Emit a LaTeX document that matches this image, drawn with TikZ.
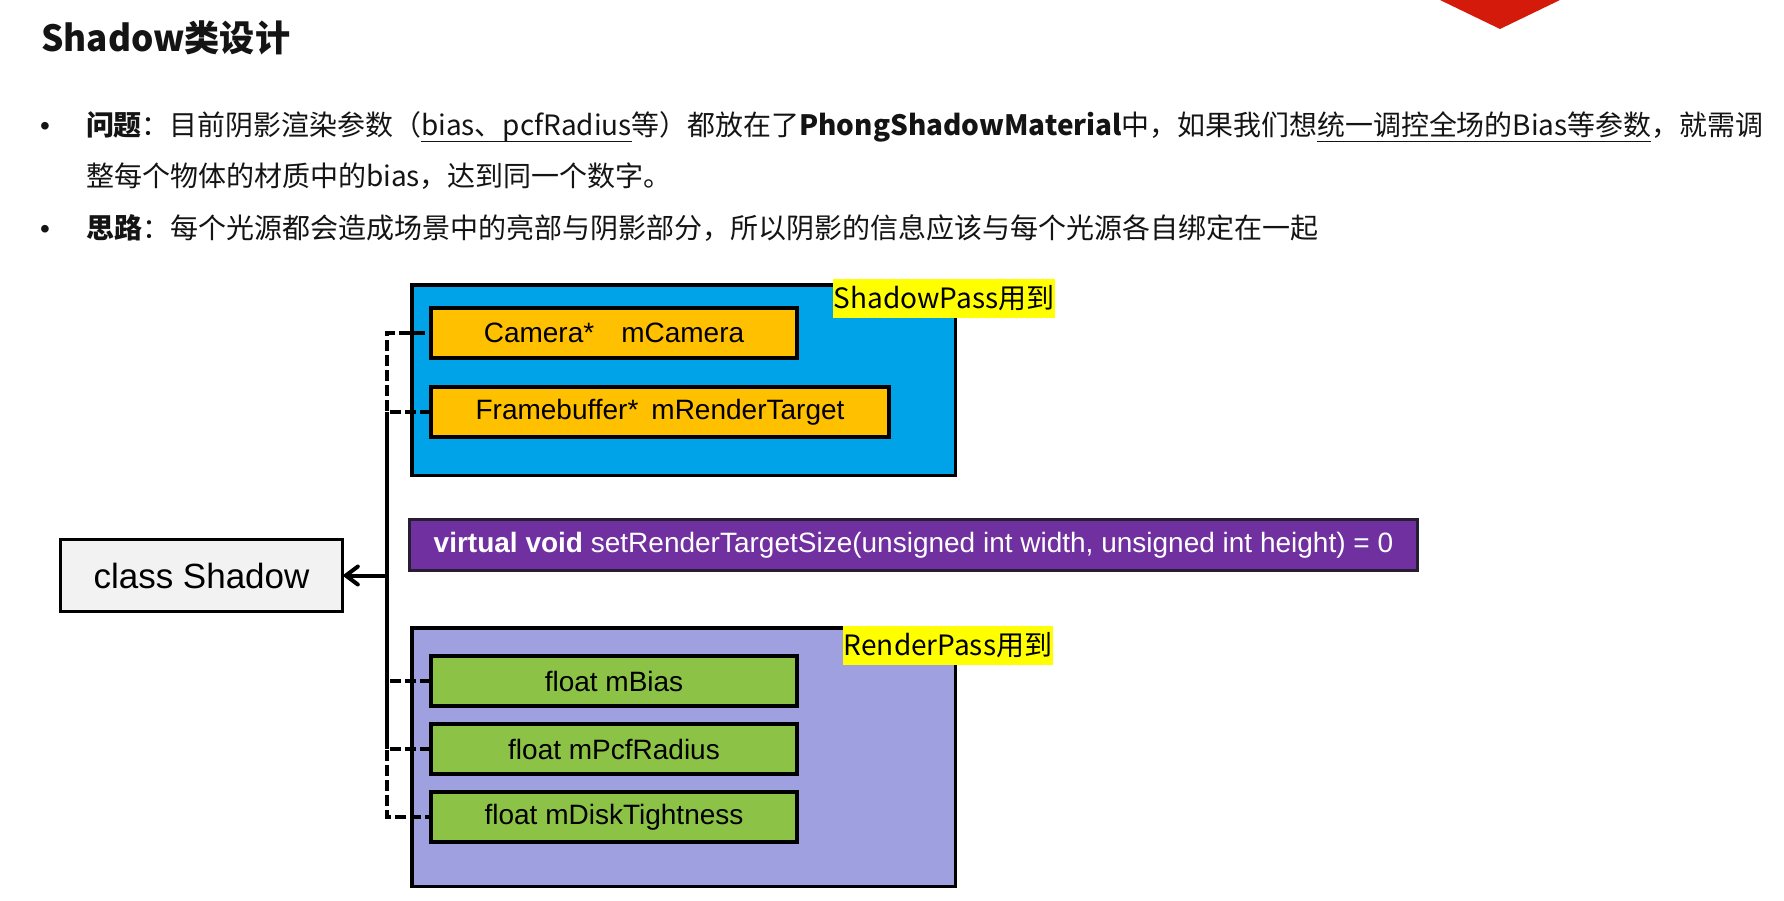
\documentclass[tikz,border=0pt]{standalone}
\usepackage{fontspec}
\setmainfont{Liberation Sans}
\newfontfamily\cjk{Noto Sans CJK SC}
\usetikzlibrary{arrows.meta}
\definecolor{txt}{RGB}{20,20,20}
\definecolor{spblue}{RGB}{0,162,232}
\definecolor{rplav}{RGB}{158,160,224}
\definecolor{memorange}{RGB}{255,192,0}
\definecolor{memgreen}{RGB}{140,195,70}
\definecolor{fnpurple}{RGB}{112,48,160}
\definecolor{passyellow}{RGB}{255,255,0}
\definecolor{clsgrey}{RGB}{242,242,242}
\definecolor{topred}{RGB}{212,26,10}
\newcommand\myul[1]{\setbox0\hbox{#1}\rlap{\rule[-6pt]{\wd0}{1.4pt}}\box0}
\begin{document}
\begin{tikzpicture}[x=1pt,y=-1pt,
  box/.style={draw=black, line width=3.5pt, inner sep=0pt, outer sep=0pt, align=center, text=black},
  group/.style={box, minimum width=543.5pt},
  member/.style={box, line width=4pt, minimum height=50pt, font=\fontsize{28}{32}\selectfont},
  passlabel/.style={fill=passyellow, inner sep=0pt, outer sep=0pt, minimum height=39pt, font=\cjk\fontsize{28}{32}\selectfont, text=black},
  line/.style={anchor=base west, inner sep=0pt, outer sep=0pt, font=\cjk\fontsize{28}{32}\selectfont, text=txt},
  bullet/.style={anchor=base, inner sep=0pt, font=\fontsize{28}{32}\selectfont, text=txt},
  conn/.style={draw=black, line width=4pt},
  dconn/.style={conn, dash pattern=on 11pt off 4pt}
]
\useasboundingbox (0,0) rectangle (1784,901);
\fill[white] (0,0) rectangle (1784,901);
% decorative red shape at top
\fill[topred] (1440,0) -- (1560,0) -- (1500,29) -- cycle;

% title and bullet text
\node[anchor=base west, inner sep=0pt, font=\cjk\bfseries\fontsize{36}{40}\selectfont, text=txt] (title) at (41,52) {\resizebox{249pt}{\height}{Shadow类设计}};
\node[bullet] (b1) at (45,136) {•};
\node[line] (l1) at (86,136) {\resizebox{1677pt}{\height}{{\bfseries 问题}：目前阴影渲染参数（\myul{bias、pcfRadius}等）都放在了{\bfseries PhongShadowMaterial}中，如果我们想\myul{统一调控全场的Bias等参数}，就需调}};
\node[line] (l2) at (86,187) {整每个物体的材质中的bias，达到同一个数字。};
\node[bullet] (b2) at (45,239) {•};
\node[line] (l3) at (86,239) {{\bfseries 思路}：每个光源都会造成场景中的亮部与阴影部分，所以阴影的信息应该与每个光源各自绑定在一起};

% ShadowPass group
\node[group, fill=spblue, minimum height=190.5pt] (sp) at (683.5,380) {};
\node[passlabel, minimum width=222pt] (splabel) at (944,298.5) {ShadowPass用到};
\node[member, fill=memorange, minimum width=366pt] (cam) at (614,333) {Camera*\hspace{27pt}mCamera};
\node[member, fill=memorange, minimum width=458pt] (fb) at (660,412) {Framebuffer*\hspace{13pt}mRenderTarget};

% virtual function
\node[box, line width=3pt, draw={rgb,255:red,40;green,30;blue,50}, fill=fnpurple, minimum width=1008pt, minimum height=51pt, text=white, font=\fontsize{28}{32}\selectfont] (fn) at (913.5,545) {\textbf{virtual void} setRenderTargetSize(unsigned int width, unsigned int height) = 0};

% RenderPass group
\node[group, fill=rplav, minimum height=258.5pt] (rp) at (683.5,757) {};
\node[passlabel, minimum width=210pt] (rplabel) at (948,645.5) {RenderPass用到};
\node[member, fill=memgreen, minimum width=366pt] (bias) at (614,681) {float mBias};
\node[member, fill=memgreen, minimum width=366pt] (pcf) at (614,749) {float mPcfRadius};
\node[member, fill=memgreen, minimum width=366pt] (disk) at (614,817) {float mDiskTightness};

% class Shadow
\node[box, fill=clsgrey, minimum width=282pt, minimum height=72pt, font=\fontsize{35}{40}\selectfont] (cls) at (201.5,575.5) {class Shadow};

% connectors
\coordinate (tx) at (387,0);
\draw[dconn] (fb.west) -- (fb.west -| tx) -- (cam.west -| tx) -- (cam.west);
\draw[dconn] (bias.west) -- (bias.west -| tx);
\draw[dconn] (pcf.west) -- (pcf.west -| tx) -- (disk.west -| tx) -- (disk.west);
\draw[conn] (fb.west -| tx) -- (pcf.west -| tx);
\draw[conn, -{Straight Barb[length=12pt,width=18pt,line cap=round]}] (cls.east -| tx) -- (cls.east);
\end{tikzpicture}
\end{document}
